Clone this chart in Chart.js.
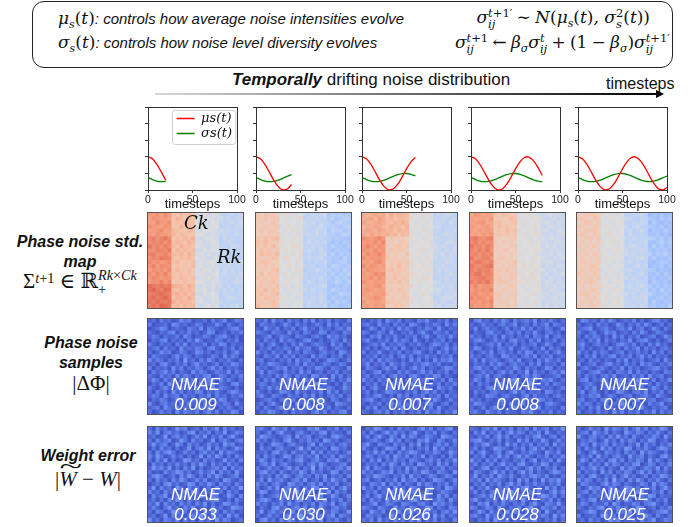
<!DOCTYPE html>
<html>
<head>
<meta charset="utf-8">
<script src="https://cdn.jsdelivr.net/npm/chart.js@4.4.0/dist/chart.umd.min.js"></script>
<style>
  body { margin: 0; width: 699px; height: 527px; position: relative; background: #fff; overflow: hidden;
         font-family: 'Liberation Sans', Arial, sans-serif; color: #111; }
  .abs { position: absolute; white-space: nowrap; }
  .m { font-family: 'DejaVu Serif', 'Liberation Serif', serif; font-style: italic; }
  .u { font-style: normal; }
  .sp { display: inline-block; width: 0.25em; }
  .ss { display: inline-block; vertical-align: -0.45em; font-size: 0.68em; line-height: 1.0; text-align: left; }
  .ss > span { display: block; }
  .lbl { font-weight: bold; font-style: italic; font-size: 16px; line-height: 20px; text-align: center; }
  .hm { position: absolute; border: 1px solid #555; box-sizing: border-box; }
  .hm canvas { display: block; }
  .nm { position: absolute; color: #fff; font-style: italic; font-size: 17px; text-align: center; width: 97px; line-height: 20px; }
  .tw { position: relative; display: inline-block; }
  .tw::before { content: '~'; position: absolute; left: 4px; right: -2px; top: -0.62em; text-align: center;
                font-style: normal; transform: scaleX(2.0); }
</style>
</head>
<body>

<!-- top box -->
<div class="abs" style="left:32px;top:1px;width:641px;height:67px;border:1.2px solid #222;border-radius:12px;box-sizing:border-box;"></div>
<div class="abs" style="left:58px;top:6px;line-height:24px;font-size:15px;">
  <span class="m" style="font-size:17px">μ<sub style="font-size:11px">s</sub><span class="u">(</span>t<span class="u">)</span></span><i>: controls how average noise intensities evolve</i>
</div>
<div class="abs" style="left:58px;top:30px;line-height:24px;font-size:15px;">
  <span class="m" style="font-size:17px">σ<sub style="font-size:11px">s</sub><span class="u">(</span>t<span class="u">)</span></span><i>: controls how noise level diversity evolves</i>
</div>
<div class="abs m" style="right:49px;top:4px;line-height:26px;font-size:17px;">
  σ<span class="ss"><span>t<span class="u">+1′</span></span><span>ij</span></span><span class="sp"></span><span class="u">∼</span><span class="sp"></span>N<span class="u">(</span>μ<sub style="font-size:11px">s</sub><span class="u">(</span>t<span class="u">)</span>, σ<span class="ss"><span class="u">2</span><span>s</span></span><span class="u">(</span>t<span class="u">))</span>
</div>
<div class="abs m" style="right:29px;top:29px;line-height:26px;font-size:17px;">
  σ<span class="ss"><span>t<span class="u">+1</span></span><span>ij</span></span><span class="sp"></span><span class="u">←</span><span class="sp"></span>β<sub style="font-size:11px">σ</sub>σ<span class="ss"><span>t</span><span>ij</span></span><span class="sp"></span><span class="u">+</span><span class="sp"></span><span class="u">(1</span><span class="sp"></span><span class="u">−</span><span class="sp"></span>β<sub style="font-size:11px">σ</sub><span class="u">)</span>σ<span class="ss"><span>t<span class="u">+1′</span></span><span>ij</span></span>
</div>

<!-- drifting arrow -->
<div class="abs" style="left:232px;top:70px;font-size:17px;line-height:20px;"><b><i>Temporally</i></b> drifting noise distribution</div>
<div class="abs" style="left:606px;top:74px;font-size:16px;line-height:20px;">timesteps</div>
<div class="abs" style="left:155px;top:93px;width:503px;height:2px;background:linear-gradient(to right,#d8d8d8,#000);"></div>
<div class="abs" style="left:656px;top:90px;width:0;height:0;border-top:4px solid transparent;border-bottom:4px solid transparent;border-left:8px solid #000;"></div>

<!-- row labels -->
<div class="abs lbl" style="left:0px;width:160px;top:232px;">Phase noise std.<br>map</div>
<div class="abs" style="left:0px;width:160px;top:268px;text-align:center;font-size:21px;line-height:24px;font-family:'Liberation Serif','DejaVu Serif',serif;">
  Σ<span class="ss" style="vertical-align:0.35em"><span><i>t</i>+1</span></span> ∈ ℝ<span class="ss"><span><i>Rk</i>×<i>Ck</i></span><span>+</span></span>
</div>
<div class="abs lbl" style="left:0px;width:182px;top:333px;">Phase noise<br>samples</div>
<div class="abs" style="left:0px;width:182px;top:371px;text-align:center;font-size:21px;line-height:24px;font-family:'Liberation Serif','DejaVu Serif',serif;">|ΔΦ|</div>
<div class="abs lbl" style="left:0px;width:176px;top:446px;">Weight error</div>
<div class="abs" style="left:0px;width:176px;top:467px;text-align:center;font-size:21px;line-height:24px;font-family:'Liberation Serif','DejaVu Serif',serif;">
  |<i class="tw">W</i> − <i>W</i>|
</div>

<div id="root"></div>

<script>
// curves of the drifting noise distribution
const timesteps = [0, 5, 10, 15, 20, 25, 30, 35, 40, 45, 50, 55, 60, 65, 70, 75, 80, 85, 90, 95, 100];
const muS =    [0.40, 0.376, 0.309, 0.215, 0.118, 0.041, 0.002, 0.012, 0.067, 0.155, 0.254, 0.340, 0.391, 0.397, 0.354, 0.276, 0.176, 0.084, 0.018, 0.0, 0.03];
const sigmaS = [0.15, 0.126, 0.108, 0.100, 0.104, 0.118, 0.140, 0.165, 0.185, 0.198, 0.199, 0.189, 0.169, 0.145, 0.122, 0.106, 0.100, 0.106, 0.122, 0.145, 0.169];
const panelEnds = [20, 40, 60, 80, 100];
const xTickValues = [0, 50, 100];
const yTickValues = [0, 0.2, 0.4, 0.6, 0.8, 1.0];

// std map bands (4 row bands x 4 column bands), coolwarm 0..1
const stdBands = [
  [[0.75, 0.64, 0.48, 0.42], [0.79, 0.65, 0.47, 0.41], [0.77, 0.63, 0.48, 0.42], [0.83, 0.66, 0.47, 0.41]],
  [[0.60, 0.50, 0.42, 0.37], [0.62, 0.51, 0.41, 0.35], [0.61, 0.50, 0.40, 0.36], [0.62, 0.49, 0.41, 0.35]],
  [[0.70, 0.66, 0.50, 0.42], [0.76, 0.60, 0.50, 0.43], [0.75, 0.61, 0.51, 0.42], [0.74, 0.60, 0.50, 0.43]],
  [[0.73, 0.62, 0.50, 0.45], [0.79, 0.59, 0.50, 0.45], [0.80, 0.60, 0.51, 0.44], [0.76, 0.59, 0.50, 0.45]],
  [[0.60, 0.50, 0.41, 0.33], [0.59, 0.50, 0.42, 0.34], [0.60, 0.49, 0.41, 0.33], [0.59, 0.50, 0.42, 0.34]]
];

// NMAE values
const nmaePhase = ['0.009', '0.008', '0.007', '0.008', '0.007'];
const nmaeWeight = ['0.033', '0.030', '0.026', '0.028', '0.025'];

// speckle textures (intensity levels per cell)
const texA = [
  "231423125341223142351243", "412231542312431225314213", "123541232143251432123452", "321324513242312541231324",
  "243132241531224313452131", "132451323142631224313241", "421323142513224132541322", "234142315232431452132413",
  "312534124312542313241352", "143221352431321243152431", "524313241623142531324213", "231452132413523124132542",
  "413231524132431352413231", "142352413215243124325142", "321423152431324512431324", "253142314524132431524213",
  "132415231342152341321452", "421352143231423152432131", "314231524132541324213542", "243152341423132514231324",
  "132431252314243132541231", "521342314252314213243152", "234153241321532431324213", "312423152432413524132541"];
const texB = [
  "324152314231425132413214", "143231253142312431524132", "215324132413523142313425", "432143215231431254132143",
  "123512432143213421534231", "314231524312452131243152", "241352131425213432152413", "132413243152341253124321",
  "523142315231432134231542", "214325142413215243132413", "341231324152341312543124", "132543213241523124312431",
  "423124351324132542143215", "251432142315241231324132", "132314253142315423152413", "314251324231432134241325",
  "243132415324132513213142", "132524131423542132431253", "421312543152313241524132", "352143214231425131342413",
  "123421352413214352143124", "241352143152431243215432", "314213524231352132413213", "132542131423213524132451"];
const texC = [
  "213241532413214352132413", "342152314231542132431524", "125314231524213243152132", "431243152132413521432413",
  "214351324213241352143252", "352132415243152131324131", "123425132431324213542413", "241313524152131324213524",
  "413252132413245213152413", "132413241352413242313241", "324152432131524131524352", "251324153242132453241213",
  "143213524131352413213542", "312451321424213524132413", "241324135231452132541321", "523142413213241351324152",
  "132413252413524213241324", "413521341352132432153241", "241312543213241352413132", "132452131524132413241523",
  "345213241321524132531242", "213241352413213245213413", "142513241352431324152132", "321342513241324152341325"];

const N = 24;
const textures = [texA, texB, texC];
const phaseTex = [[0, 0], [1, 0], [2, 0], [0, 3], [1, 3]];   // [texture, flip]
const weightTex = [[2, 1], [0, 1], [1, 2], [2, 2], [0, 2]];

const coolwarmStops = [
  [0.0, 59, 76, 192], [0.125, 98, 130, 234], [0.25, 141, 176, 254], [0.375, 184, 208, 249],
  [0.5, 221, 221, 221], [0.625, 245, 196, 173], [0.75, 244, 154, 123], [0.875, 222, 96, 77], [1.0, 180, 4, 38]
];
function coolwarm(v) {
  v = Math.max(0, Math.min(1, v));
  for (let i = 1; i < coolwarmStops.length; i++) {
    const a = coolwarmStops[i - 1], b = coolwarmStops[i];
    if (v <= b[0]) {
      const f = (v - a[0]) / (b[0] - a[0]);
      return `rgb(${Math.round(a[1] + f * (b[1] - a[1]))},${Math.round(a[2] + f * (b[2] - a[2]))},${Math.round(a[3] + f * (b[3] - a[3]))})`;
    }
  }
}

function texLevel(t, flip, r, c) {
  const rr = (flip & 2) ? N - 1 - r : r;
  const cc = (flip & 1) ? N - 1 - c : c;
  const row = textures[t][rr] || '';
  return Number(row[cc] || 2);
}

const lineLefts = [148, 256, 362, 471, 578];
const mapLefts = [147, 255, 361, 469, 576];
const root = document.getElementById('root');

function makeCanvas(left, top, w, h, cls) {
  const wrap = document.createElement('div');
  wrap.className = cls || 'abs';
  wrap.style.cssText += `left:${left}px;top:${top}px;width:${w}px;height:${h}px;`;
  const c = document.createElement('canvas');
  const inner = cls ? 2 : 0;
  c.width = w - inner; c.height = h - inner;
  c.style.width = (w - inner) + 'px'; c.style.height = (h - inner) + 'px';
  wrap.appendChild(c);
  root.appendChild(wrap);
  return c;
}

// legend moved to the upper right corner of the plot, with a light frame
const legendCorner = {
  id: 'legendCorner',
  afterLayout(chart) {
    const lg = chart.legend;
    if (!lg || !lg.options.display || !lg.columnSizes) return;
    const a = chart.chartArea;
    const w = lg.columnSizes[0].width + 2 * lg.options.labels.padding;
    lg.left = a.right - w - 3;
    lg.right = a.right;
    lg.width = lg.right - lg.left;
    lg.top = a.top + 3;
    lg.bottom = a.bottom;
    lg.height = lg.bottom - lg.top;
  },
  afterDraw(chart) {
    const { ctx, chartArea: a } = chart;
    ctx.save();
    ctx.strokeStyle = '#333';
    ctx.lineWidth = 1;
    ctx.strokeRect(Math.round(a.left) + 0.5, Math.round(a.top) + 0.5, Math.round(a.width), Math.round(a.height));
    const lg = chart.legend;
    if (lg && lg.options.display && lg.columnSizes) {
      const pad = lg.options.labels.padding;
      const cs = lg.columnSizes[0];
      ctx.strokeStyle = '#cfcfcf';
      ctx.beginPath();
      ctx.roundRect(Math.round(lg.left) - 2.5, Math.round(lg.top) + 0.5, cs.width + pad + 6, cs.height + pad + 2, 3);
      ctx.stroke();
    }
    ctx.restore();
  }
};

// line charts
panelEnds.forEach((end, p) => {
  const canvas = makeCanvas(lineLefts[p] - 10, 100, 109, 112);
  const idx = timesteps.map((t, i) => i).filter(i => timesteps[i] <= end);
  new Chart(canvas, {
    type: 'line',
    data: {
      datasets: [
        { label: 'μs(t)', data: idx.map(i => ({ x: timesteps[i], y: muS[i] })),
          borderColor: '#ff0000', backgroundColor: '#ff0000', borderWidth: 1.3, pointRadius: 0, tension: 0.3 },
        { label: 'σs(t)', data: idx.map(i => ({ x: timesteps[i], y: sigmaS[i] })),
          borderColor: '#008000', backgroundColor: '#008000', borderWidth: 1.3, pointRadius: 0, tension: 0.3 }
      ]
    },
    options: {
      responsive: false,
      animation: false,
      events: [],
      layout: { padding: { top: 7, right: 10, left: 0, bottom: 0 } },
      scales: {
        x: {
          type: 'linear', min: 0, max: 100,
          afterBuildTicks: s => { s.ticks = xTickValues.map(v => ({ value: v })); },
          afterFit: s => { s.height = 22; },
          grid: { drawOnChartArea: false, tickLength: 3, color: '#333' },
          border: { display: false },
          ticks: { font: { size: 10.5 }, color: '#222', padding: 1, maxRotation: 0, autoSkip: false },
          title: { display: true, text: 'timesteps', font: { size: 13 }, color: '#111', padding: { top: -5, bottom: 0 } }
        },
        y: {
          min: 0, max: 1,
          afterBuildTicks: s => { s.ticks = yTickValues.map(v => ({ value: v })); },
          afterFit: s => { s.width = 10; },
          grid: { drawOnChartArea: false, tickLength: 3, color: '#333' },
          border: { display: false },
          ticks: { display: false }
        }
      },
      plugins: {
        legend: {
          display: p === 0, position: 'chartArea', align: 'start',
          labels: { boxWidth: 18, boxHeight: 0, padding: 2, color: '#111',
                    font: { family: "'DejaVu Serif', serif", style: 'italic', size: 13, lineHeight: 1.0 } }
        },
        tooltip: { enabled: false }
      }
    },
    plugins: [legendCorner]
  });
});

// heatmaps as stacked bars
function heatmap(canvas, grid) {
  const rows = grid.length;
  const datasets = [];
  for (let r = rows - 1; r >= 0; r--) {
    datasets.push({ data: grid[r].map(() => 1), backgroundColor: grid[r].map(coolwarm),
                    borderWidth: 0, categoryPercentage: 1, barPercentage: 1 });
  }
  new Chart(canvas, {
    type: 'bar',
    data: { labels: grid[0].map((v, c) => c), datasets },
    options: {
      responsive: false, animation: false, events: [],
      layout: { padding: 0 },
      scales: { x: { display: false, stacked: true }, y: { display: false, stacked: true, min: 0, max: rows } },
      plugins: { legend: { display: false }, tooltip: { enabled: false } }
    }
  });
}

function buildGrid(fn) {
  const g = [];
  for (let r = 0; r < N; r++) { const row = []; for (let c = 0; c < N; c++) row.push(fn(r, c)); g.push(row); }
  return g;
}

stdBands.forEach((bands, p) => {
  const canvas = makeCanvas(mapLefts[p], 212, 97, 97, 'hm');
  heatmap(canvas, buildGrid((r, c) => bands[Math.floor(r / 6)][Math.floor(c / 6)] + (texLevel((p + 1) % 3, p % 4, r, c) - 2.8) * 0.014));
});

nmaePhase.forEach((v, p) => {
  const canvas = makeCanvas(mapLefts[p], 318, 97, 97, 'hm');
  const [t, f] = phaseTex[p];
  heatmap(canvas, buildGrid((r, c) => 0.02 + (texLevel(t, f, r, c) - 1) * 0.033));
  const d = document.createElement('div');
  d.className = 'nm';
  d.style.left = mapLefts[p] + 'px'; d.style.top = '375px';
  d.innerHTML = 'NMAE<br>' + v;
  root.appendChild(d);
});

nmaeWeight.forEach((v, p) => {
  const canvas = makeCanvas(mapLefts[p], 426, 97, 97, 'hm');
  const [t, f] = weightTex[p];
  heatmap(canvas, buildGrid((r, c) => 0.02 + (texLevel(t, f, r, c) - 1) * 0.038));
  const d = document.createElement('div');
  d.className = 'nm';
  d.style.left = mapLefts[p] + 'px'; d.style.top = '485px';
  d.innerHTML = 'NMAE<br>' + v;
  root.appendChild(d);
});
</script>

<div class="abs m" style="left:184px;top:212px;font-size:18px;line-height:22px;">Ck</div>
<div class="abs m" style="left:217px;top:246px;font-size:18px;line-height:22px;">Rk</div>
</body>
</html>
